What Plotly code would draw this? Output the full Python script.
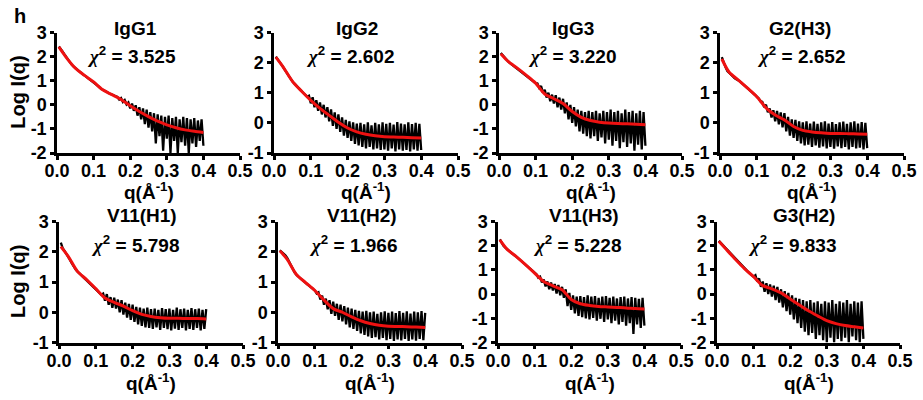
import plotly.graph_objects as go

# ---------------- data ----------------
q = [0.005, 0.010, 0.015, 0.020, 0.025, 0.030, 0.035, 0.040, 0.045, 0.050,
     0.055, 0.060, 0.065, 0.070, 0.075, 0.080, 0.085, 0.090, 0.095, 0.100,
     0.105, 0.110, 0.115, 0.120, 0.125, 0.130, 0.135, 0.140, 0.145, 0.150,
     0.155, 0.160, 0.165, 0.170, 0.175, 0.180, 0.185, 0.190, 0.195, 0.200,
     0.205, 0.210, 0.215, 0.220, 0.225, 0.230, 0.235, 0.240, 0.245, 0.250,
     0.255, 0.260, 0.265, 0.270, 0.275, 0.280, 0.285, 0.290, 0.295, 0.300,
     0.305, 0.310, 0.315, 0.320, 0.325, 0.330, 0.335, 0.340, 0.345, 0.350,
     0.355, 0.360, 0.365, 0.370, 0.375, 0.380, 0.385, 0.390, 0.395, 0.400]

q_fit = [0.005, 0.025, 0.05, 0.075, 0.1, 0.125, 0.15, 0.175, 0.2, 0.225,
         0.25, 0.275, 0.3, 0.325, 0.35, 0.375, 0.4]

names = ["IgG1", "IgG2", "IgG3", "G2(H3)", "V11(H1)", "V11(H2)", "V11(H3)", "G3(H2)"]
chi2 = ["3.525", "2.602", "3.220", "2.652", "5.798", "1.966", "5.228", "9.833"]
y_min = [-2, -1, -2, -1, -1, -1, -2, -2]
y_max = [3, 3, 3, 3, 3, 3, 3, 3]
x_ticks = [0.0, 0.1, 0.2, 0.3, 0.4, 0.5]
x_ticktext = ["0.0", "0.1", "0.2", "0.3", "0.4", "0.5"]

exp_igg1 = [2.42, 2.33, 2.22, 2.10, 1.98, 1.87, 1.77, 1.67, 1.59, 1.52,
            1.46, 1.40, 1.33, 1.27, 1.22, 1.16, 1.11, 1.05, 1.00, 0.95,
            0.88, 0.81, 0.74, 0.67, 0.62, 0.58, 0.53, 0.50, 0.46, 0.42,
            0.38, 0.34, 0.33, 0.22, 0.28, 0.12, 0.20, 0.02, 0.10, -0.15,
            0.05, -0.25, -0.02, -0.45, -0.10, -0.60, -0.15, -0.80, -0.20, -0.95,
            -0.30, -1.10, -0.35, -1.60, -0.40, -1.30, -0.45, -1.90, -0.50, -1.40,
            -0.45, -2.00, -0.55, -1.50, -0.50, -2.00, -0.60, -1.55, -0.50, -1.70,
            -0.55, -2.00, -0.60, -1.60, -0.55, -1.75, -0.65, -1.50, -0.60, -1.70]
exp_igg2 = [2.20, 2.12, 2.03, 1.94, 1.85, 1.75, 1.65, 1.55, 1.46, 1.38,
            1.31, 1.24, 1.18, 1.11, 1.05, 0.99, 0.93, 0.87, 0.90, 0.65,
            0.85, 0.52, 0.75, 0.40, 0.68, 0.28, 0.60, 0.18, 0.52, 0.05,
            0.45, -0.10, 0.35, -0.20, 0.28, -0.30, 0.18, -0.42, 0.10, -0.50,
            0.05, -0.60, 0.02, -0.70, -0.02, -0.75, 0.00, -0.80, -0.05, -0.85,
            0.02, -0.80, -0.08, -0.88, 0.00, -0.85, -0.05, -0.90, 0.02, -0.88,
            -0.03, -0.92, 0.00, -0.85, -0.06, -0.95, 0.03, -0.88, -0.02, -0.92,
            -0.05, -0.90, 0.02, -0.95, -0.04, -0.88, 0.00, -0.92, -0.03, -0.90]
exp_igg3 = [2.15, 2.05, 1.95, 1.87, 1.80, 1.73, 1.67, 1.61, 1.56, 1.52,
            1.46, 1.40, 1.34, 1.28, 1.22, 1.16, 1.10, 1.03, 0.96, 0.90,
            0.88, 0.70, 0.78, 0.50, 0.62, 0.30, 0.50, 0.15, 0.42, 0.05,
            0.40, -0.10, 0.30, -0.20, 0.25, -0.35, 0.10, -0.60, 0.00, -0.75,
            -0.10, -0.90, -0.20, -1.10, -0.25, -1.20, -0.30, -1.30, -0.25, -1.40,
            -0.30, -1.30, -0.25, -1.50, -0.35, -1.35, -0.25, -1.60, -0.30, -1.45,
            -0.20, -1.70, -0.30, -1.50, -0.25, -1.80, -0.35, -1.55, -0.20, -1.75,
            -0.30, -1.60, -0.25, -1.90, -0.35, -1.65, -0.25, -1.85, -0.30, -1.70]
exp_g2h3 = [2.18, 2.00, 1.85, 1.72, 1.65, 1.60, 1.54, 1.48, 1.45, 1.42,
            1.37, 1.31, 1.26, 1.20, 1.15, 1.09, 1.04, 0.98, 0.93, 0.87,
            0.82, 0.72, 0.70, 0.52, 0.60, 0.35, 0.48, 0.18, 0.42, 0.05,
            0.40, -0.05, 0.35, -0.15, 0.32, -0.28, 0.20, -0.42, 0.12, -0.50,
            0.10, -0.60, 0.05, -0.68, 0.02, -0.75, 0.05, -0.72, -0.02, -0.80,
            0.04, -0.75, -0.03, -0.82, 0.02, -0.78, 0.05, -0.85, -0.02, -0.80,
            0.03, -0.86, -0.04, -0.78, 0.02, -0.84, 0.04, -0.80, -0.03, -0.88,
            0.02, -0.80, 0.05, -0.85, -0.02, -0.82, 0.03, -0.88, 0.00, -0.84]
exp_v11h1 = [2.30, 2.12, 2.03, 1.94, 1.85, 1.73, 1.61, 1.50, 1.42, 1.35,
             1.29, 1.23, 1.18, 1.13, 1.08, 1.02, 0.96, 0.90, 0.84, 0.78,
             0.72, 0.65, 0.58, 0.62, 0.38, 0.60, 0.25, 0.50, 0.15, 0.48,
             0.12, 0.42, 0.00, 0.40, -0.08, 0.32, -0.18, 0.28, -0.25, 0.25,
             -0.32, 0.18, -0.40, 0.15, -0.45, 0.12, -0.50, 0.15, -0.52, 0.10,
             -0.55, 0.12, -0.50, 0.08, -0.58, 0.14, -0.52, 0.10, -0.56, 0.12,
             -0.60, 0.08, -0.54, 0.15, -0.58, 0.10, -0.52, 0.12, -0.60, 0.08,
             -0.55, 0.14, -0.58, 0.10, -0.52, 0.12, -0.60, 0.08, -0.55, 0.10]
exp_v11h2 = [2.05, 2.00, 1.94, 1.88, 1.80, 1.68, 1.55, 1.42, 1.32, 1.24,
             1.18, 1.12, 1.06, 1.01, 0.97, 0.92, 0.87, 0.82, 0.77, 0.72,
             0.62, 0.66, 0.42, 0.55, 0.25, 0.45, 0.10, 0.40, -0.05, 0.35,
             -0.12, 0.28, -0.25, 0.25, -0.30, 0.20, -0.40, 0.15, -0.50, 0.12,
             -0.55, 0.08, -0.62, 0.05, -0.70, 0.02, -0.75, 0.05, -0.80, 0.00,
             -0.85, 0.02, -0.82, -0.05, -0.90, 0.00, -0.85, 0.03, -0.92, -0.02,
             -0.88, 0.02, -0.95, -0.03, -0.90, 0.04, -0.93, -0.02, -0.88, 0.03,
             -0.95, -0.04, -0.90, 0.02, -0.94, 0.00, -0.88, 0.04, -0.92, -0.02]
exp_v11h3 = [2.26, 2.12, 2.00, 1.92, 1.85, 1.78, 1.71, 1.65, 1.60, 1.55,
             1.48, 1.42, 1.35, 1.29, 1.22, 1.15, 1.08, 1.01, 0.94, 0.87,
             0.82, 0.68, 0.72, 0.48, 0.60, 0.32, 0.52, 0.20, 0.48, 0.15,
             0.42, 0.02, 0.38, -0.05, 0.30, -0.15, 0.20, -0.50, 0.05, -0.65,
             -0.05, -0.80, -0.10, -0.90, -0.08, -0.95, -0.12, -1.00, -0.05, -1.05,
             -0.10, -0.98, -0.08, -1.10, -0.15, -1.02, -0.10, -1.15, -0.08, -1.05,
             -0.15, -1.20, -0.10, -1.10, -0.18, -1.25, -0.12, -1.15, -0.10, -1.30,
             -0.18, -1.20, -0.12, -1.65, -0.15, -1.25, -0.20, -1.40, -0.15, -1.30]
exp_g3h2 = [2.20, 2.12, 2.03, 1.94, 1.85, 1.77, 1.68, 1.60, 1.52, 1.44,
            1.36, 1.28, 1.20, 1.12, 1.05, 0.98, 0.92, 0.85, 0.78, 0.72,
            0.78, 0.52, 0.65, 0.30, 0.52, 0.10, 0.45, 0.00, 0.40, -0.10,
            0.35, -0.25, 0.30, -0.35, 0.20, -0.55, 0.12, -0.70, 0.05, -0.85,
            -0.05, -1.05, -0.15, -1.20, -0.20, -1.40, -0.25, -1.55, -0.30, -1.70,
            -0.25, -1.60, -0.35, -1.85, -0.30, -1.70, -0.40, -1.90, -0.30, -2.00,
            -0.35, -1.80, -0.25, -2.00, -0.40, -1.85, -0.30, -1.95, -0.35, -1.80,
            -0.25, -2.00, -0.40, -1.75, -0.30, -1.90, -0.35, -2.00, -0.30, -1.85]

fit_igg1 = [2.40, 1.97, 1.52, 1.22, 0.95, 0.62, 0.42, 0.22, -0.04, -0.28, -0.49, -0.68, -0.83, -0.95, -1.04, -1.10, -1.15]
fit_igg2 = [2.18, 1.85, 1.38, 1.05, 0.75, 0.48, 0.25, 0.02, -0.17, -0.30, -0.38, -0.43, -0.46, -0.47, -0.48, -0.49, -0.50]
fit_igg3 = [2.12, 1.80, 1.52, 1.22, 0.90, 0.45, 0.25, 0.05, -0.28, -0.52, -0.65, -0.72, -0.76, -0.78, -0.79, -0.81, -0.83]
fit_g2h3 = [2.12, 1.68, 1.42, 1.15, 0.87, 0.50, 0.26, 0.10, -0.12, -0.25, -0.30, -0.33, -0.35, -0.35, -0.36, -0.37, -0.38]
fit_v11h1 = [2.17, 1.85, 1.35, 1.08, 0.78, 0.47, 0.33, 0.20, 0.05, -0.07, -0.14, -0.18, -0.20, -0.20, -0.21, -0.21, -0.22]
fit_v11h2 = [2.03, 1.75, 1.25, 0.98, 0.72, 0.40, 0.12, 0.00, -0.15, -0.28, -0.37, -0.43, -0.46, -0.47, -0.48, -0.49, -0.50]
fit_v11h3 = [2.24, 1.85, 1.55, 1.22, 0.87, 0.52, 0.34, 0.18, -0.22, -0.40, -0.47, -0.51, -0.53, -0.55, -0.57, -0.60, -0.62]
fit_g3h2 = [2.18, 1.85, 1.44, 1.05, 0.72, 0.35, 0.22, 0.05, -0.20, -0.45, -0.69, -0.90, -1.10, -1.22, -1.30, -1.35, -1.40]

exp_all = [exp_igg1, exp_igg2, exp_igg3, exp_g2h3, exp_v11h1, exp_v11h2, exp_v11h3, exp_g3h2]
fit_all = [fit_igg1, fit_igg2, fit_igg3, fit_g2h3, fit_v11h1, fit_v11h2, fit_v11h3, fit_g3h2]

# ---------------- layout (pixels) ----------------
W, H = 923, 400
axis_x0 = [57, 274, 499, 720, 59, 278, 498, 717]
axis_w = [183, 184, 183, 184, 184, 184, 183, 183]
row_top = [32.5, 32.5, 32.5, 32.5, 221.5, 221.5, 221.5, 221.5]
row_bot = [153, 153, 153, 153, 342.5, 342.5, 342.5, 342.5]
title_dx = [78, 83, 74, 80, 83, 84, 86, 87]
chi_dx = [74, 76, 73, 81, 76, 75, 79, 75]
title_y = [28, 28, 28, 28, 215, 215, 215, 215]
chi_y = [55, 55, 55, 55, 244, 244, 244, 244]
xtitle_y = [191, 191, 191, 191, 382, 382, 382, 382]

FAM = "Liberation Sans, Arial, sans-serif"
BOLD = dict(family=FAM, size=18, color="black", weight="bold")

fig = go.Figure()
annotations = []
for i in range(8):
    xa = "x" if i == 0 else f"x{i+1}"
    ya = "y" if i == 0 else f"y{i+1}"
    fig.add_trace(go.Scatter(x=q, y=exp_all[i], mode="lines",
                             line=dict(color="black", width=2.3),
                             xaxis=xa, yaxis=ya, showlegend=False, hoverinfo="skip"))
    fig.add_trace(go.Scatter(x=q_fit, y=fit_all[i], mode="lines",
                             line=dict(color="#ee1111", width=3, shape="spline", smoothing=0.8),
                             xaxis=xa, yaxis=ya, showlegend=False, hoverinfo="skip"))
    x0 = axis_x0[i]
    x1 = x0 + axis_w[i]
    yt, yb = row_top[i], row_bot[i]
    yvals = list(range(y_min[i], y_max[i] + 1))
    ax_common = dict(showline=True, linewidth=2.5, linecolor="black", ticks="outside",
                     ticklen=4, tickwidth=2.5, tickcolor="black", showgrid=False,
                     zeroline=False, tickfont=BOLD, fixedrange=True, automargin=False)
    fig.update_layout(**{
        ("xaxis" if i == 0 else f"xaxis{i+1}"): dict(
            domain=[x0 / W, x1 / W], range=[0, 0.5], anchor=ya,
            tickvals=x_ticks, ticktext=x_ticktext, ticklabelstandoff=-4, **ax_common),
        ("yaxis" if i == 0 else f"yaxis{i+1}"): dict(
            domain=[1 - yb / H, 1 - yt / H], range=[y_min[i], y_max[i]], anchor=xa,
            tickvals=yvals, ticktext=[str(v) for v in yvals], ticklabelstandoff=0,
            **ax_common),
    })
    annotations.append(dict(text=names[i], x=(x0 + title_dx[i]) / W, y=1 - title_y[i] / H,
                            xref="paper", yref="paper", showarrow=False,
                            xanchor="center", yanchor="middle",
                            font=dict(BOLD, size=19)))
    annotations.append(dict(text=f"<span style=\"font-family:Liberation Serif\"><i>χ</i></span><sup>2</sup> = {chi2[i]}",
                            x=(x0 + chi_dx[i]) / W, y=1 - chi_y[i] / H,
                            xref="paper", yref="paper", showarrow=False,
                            xanchor="center", yanchor="middle",
                            font=dict(BOLD, size=19)))
    annotations.append(dict(text="q(Å<sup>-1</sup>)", x=(x0 + x1) / 2 / W, y=1 - xtitle_y[i] / H,
                            xref="paper", yref="paper", showarrow=False,
                            xanchor="center", yanchor="middle", font=dict(BOLD, size=19)))

for yt, yb in [(32.5, 153), (221.5, 342.5)]:
    annotations.append(dict(text="Log I(q)", x=18 / W, y=1 - (yt + yb) / 2 / H,
                            xref="paper", yref="paper", showarrow=False, textangle=-90,
                            xanchor="center", yanchor="middle", font=dict(BOLD, size=20)))

annotations.append(dict(text="h", x=20 / W, y=1 - 16 / H, xref="paper", yref="paper",
                        showarrow=False, xanchor="center", yanchor="middle",
                        font=dict(BOLD, size=20)))

fig.update_layout(width=W, height=H, margin=dict(l=0, r=0, t=0, b=0, autoexpand=False),
                  paper_bgcolor="white", plot_bgcolor="white",
                  annotations=annotations, showlegend=False)

fig.write_html("out.html", config={"displayModeBar": False},
               post_script="document.body.style.margin='0px';document.body.style.overflow='hidden';")
